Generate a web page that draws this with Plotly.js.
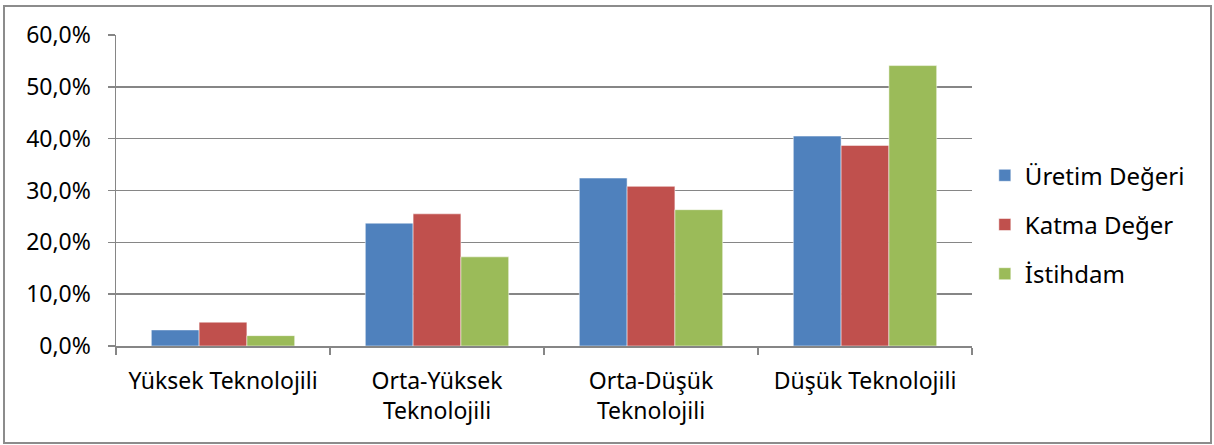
<!DOCTYPE html>
<html><head><meta charset="utf-8">
<script src="https://cdn.plot.ly/plotly-3.0.1.min.js"></script>
<style>body{margin:0;background:#fff}#frame{position:absolute;left:3px;top:5px;width:1205px;height:435px;border:2px solid #8c8c8c;pointer-events:none}</style>
</head><body>
<div id="chart" style="width:1214px;height:445px"></div>
<div id="frame"></div>
<script>
const categories = ["Yüksek Teknolojili", "Orta-Yüksek<br>Teknolojili", "Orta-Düşük<br>Teknolojili", "Düşük Teknolojili"];
const uretimDegeri = [3.1, 23.7, 32.4, 40.5];
const katmaDeger = [4.6, 25.5, 30.8, 38.7];
const istihdam = [2.0, 17.2, 26.3, 54.1];
const seriesNames = ["Üretim Değeri", "Katma Değer", "İstihdam"];
const colors = ["#4f81bd", "#c0504d", "#9bbb59"];
const series = [uretimDegeri, katmaDeger, istihdam];

const traces = series.map((vals, i) => ({
  type: "bar", x: categories, y: vals, name: seriesNames[i],
  legendgroup: "g" + i,
  marker: {color: colors[i], line: {color: "#ffffff", width: 0.5}},
  hoverinfo: "skip"
}));

const layout = {
  width: 1214, height: 445,
  margin: {l: 116, r: 242, t: 35, b: 99},
  paper_bgcolor: "#ffffff", plot_bgcolor: "#ffffff",
  separators: ",.",
  font: {family: "Noto Sans, sans-serif", size: 23, color: "#000"},
  barmode: "group", bargap: 0.33, bargroupgap: 0,
  showlegend: true,
  legend: {x: 1.015, xanchor: "left", y: 0.39, yanchor: "middle",
    font: {size: 24}, traceorder: "grouped", tracegroupgap: 15,
    itemwidth: 30},
  xaxis: {type: "category", showline: true, linecolor: "#868686", linewidth: 1.5,
    ticks: "outside", tickson: "boundaries", ticklen: 7, tickcolor: "#868686",
    tickwidth: 1.5, showgrid: false, tickfont: {size: 23}, ticklabelstandoff: 14},
  yaxis: {range: [0, 60], dtick: 10, tickformat: ".1f", ticksuffix: "%",
    showline: true, linecolor: "#868686", linewidth: 1.5,
    ticks: "outside", ticklen: 7, tickcolor: "#868686", tickwidth: 1.5,
    showgrid: true, gridcolor: "#868686", gridwidth: 1.5, zeroline: false,
    tickfont: {size: 23}, ticklabelstandoff: 12}
};
Plotly.newPlot("chart", traces, layout, {displayModeBar: false, staticPlot: true});
</script>
</body></html>
